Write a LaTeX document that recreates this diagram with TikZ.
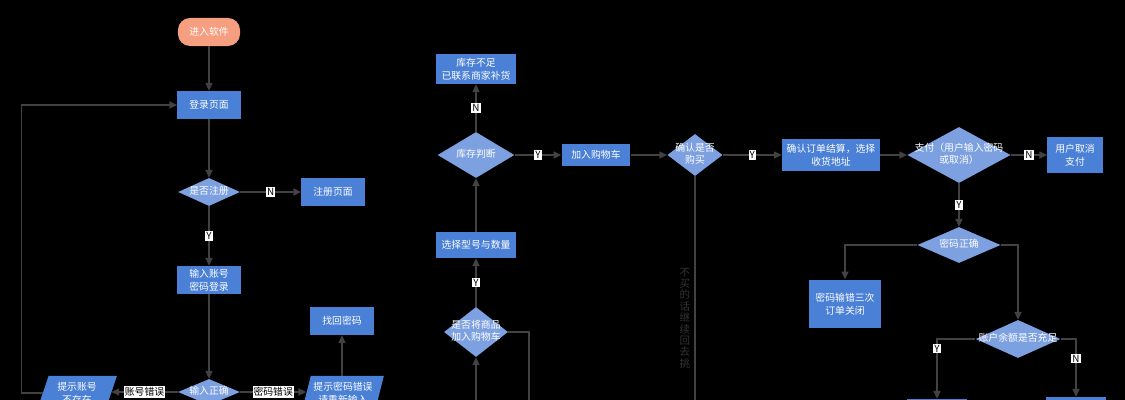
\documentclass[tikz,border=0pt]{standalone}
\usepackage{fontspec}
\setmainfont{Noto Sans CJK SC}
\usepackage{tikz}
\usetikzlibrary{shapes.geometric, arrows.meta, positioning}
\definecolor{flowbg}{RGB}{0,0,0}
\definecolor{flowblue}{RGB}{74,128,214}
\definecolor{flowdia}{RGB}{124,160,224}
\definecolor{flowsalmon}{RGB}{246,158,128}
\definecolor{flowline}{RGB}{66,66,66}
\definecolor{flowhint}{RGB}{52,52,52}
\newcommand{\dtxt}[1]{\makebox[0pt]{\begin{tabular}{@{}c@{}}#1\end{tabular}}}

\begin{document}
\begin{tikzpicture}[
  x=0.025cm, y=-0.025cm,
  font=\fontsize{7}{9}\selectfont,
  start/.style={rectangle, fill=flowsalmon, text=white, rounded corners=0.3cm, minimum width=1.55cm, minimum height=0.7cm, align=center},
  box/.style 2 args={rectangle, fill=flowblue, text=white, inner sep=1pt, minimum width=#1, minimum height=#2, align=center},
  dia/.style 2 args={diamond, fill=flowdia, text=white, inner sep=0pt, minimum width=#1, minimum height=#2},
  para/.style={trapezium, trapezium left angle=70, trapezium right angle=110, trapezium stretches=true, fill=flowblue, text=white, inner sep=0pt, minimum width=#1, minimum height=0.85cm, align=center},
  arrow/.style={-{Triangle[length=5.5pt, width=5pt]}, draw=flowline, line width=1pt},
  line/.style={draw=flowline, line width=1pt},
  lbl/.style={fill=white, text=black, inner sep=0.7pt, font=\fontsize{7}{8}\selectfont},
  hint/.style={text=flowhint, align=center, font=\fontsize{7.5}{8.1}\selectfont}
]

\useasboundingbox (0,0) rectangle (1125,400);
\fill[flowbg] (0,0) rectangle (1125,400);

% Login
\node[start] (soft) at (209,32) {进入软件};
\node[box={1.58cm}{0.7cm}] (login) at (209,105) {登录页面};
\node[dia={1.55cm}{0.7cm}] (reg) at (209,192) {\dtxt{是否注册}};
\node[box={1.58cm}{0.72cm}] (regpage) at (333,192) {注册页面};
\node[box={1.58cm}{0.7cm}] (account) at (209,280) {输入账号\\密码登录};
\node[box={1.6cm}{0.7cm}] (findpw) at (342,321) {找回密码};
\node[dia={1.55cm}{0.65cm}] (correct) at (209,392) {\dtxt{输入正确}};
\node[para=2cm] (nouser) at (77,393) {提示账号\\不存在};
\node[para=2.05cm] (wrongpw) at (343,393) {提示密码错误\\请重新输入};

% Goods
\node[box={2cm}{0.75cm}] (lack) at (476,69) {库存不足\\已联系商家补货};
\node[dia={1.92cm}{1.15cm}] (stock) at (476,155) {\dtxt{库存判断}};
\node[box={2cm}{0.65cm}] (model) at (476,245) {选择型号与数量};
\node[dia={1.6cm}{1.25cm}] (addq) at (476,332) {\dtxt{是否将商品\\加入购物车}};
\node[box={1.72cm}{0.55cm}] (cart) at (596,155) {加入购物车};
\node[dia={1.38cm}{1.05cm}] (buy) at (695,155) {\dtxt{确认是否\\购买}};
\node[hint] (hinttxt) at (685,318) {不\\买\\的\\话\\继\\续\\回\\去\\挑};

% Payment
\node[box={2.45cm}{0.8cm}] (order) at (831,155) {确认订单结算，选择\\收货地址};
\node[dia={2.58cm}{1.4cm}] (pay) at (959,155) {\dtxt{支付（用户输入密码\\或取消）}};
\node[box={1.38cm}{0.9cm}] (cancel) at (1075,155) {用户取消\\支付};
\node[dia={2.08cm}{0.9cm}] (pwok) at (959,245) {\dtxt{密码正确}};
\node[box={1.78cm}{1.22cm}] (closed) at (845,304) {密码输错三次\\订单关闭};
\node[dia={2.12cm}{0.95cm}] (balance) at (1018,339) {\dtxt{账户余额是否充足}};
\node[box={1.5cm}{0.9cm}] (paid) at (937,417) {};
\node[box={1.5cm}{0.9cm}] (short) at (1076,415) {余额不足};

% Arrows
\draw[arrow] (soft) -- (login);
\draw[arrow] (login) -- (reg);
\draw[arrow] (reg) -- (regpage) node[midway, lbl] {N};
\draw[arrow] (reg) -- (account) node[midway, lbl] {Y};
\draw[arrow] (account) -- (correct);
\draw[arrow] (correct.west) -- (correct.west -| nouser.east) node[midway, lbl] {账号错误};
\draw[arrow] (correct.east) -- (correct.east -| wrongpw.west) node[midway, lbl] {密码错误};
\draw[arrow] (wrongpw.north -| findpw) -- (findpw);
\draw[arrow] (nouser.west) -- ++(-21,0) |- (login.west);

\draw[arrow] (stock) -- (lack) node[midway, lbl] {N};
\draw[arrow] (stock) -- (cart) node[midway, lbl] {Y};
\draw[arrow] (cart) -- (buy);
\draw[arrow] (buy) -- (order) node[midway, lbl] {Y};
\draw[arrow] (model) -- (stock);
\draw[arrow] (addq) -- (model) node[midway, lbl] {Y};
\coordinate (buyout) at (695,410);
\draw[line] (buy.south) -- (buyout);
\coordinate (addqout) at (529,410);
\draw[line] (addq.east) -| (addqout);
\coordinate (addqin) at (476,410);
\draw[arrow] (addqin) -- (addq.south);

\draw[arrow] (order) -- (pay);
\draw[arrow] (pay) -- (cancel) node[midway, lbl] {N};
\draw[arrow] (pay) -- (pwok) node[midway, lbl] {Y};
\draw[arrow] (pwok.west) -| (closed.north);
\draw[arrow] (pwok.east) -| (balance.north);
\draw[arrow] (balance.west) -| (paid.north) node[pos=0.58, lbl] {Y};
\draw[arrow] (balance.east) -| (short.north) node[pos=0.67, lbl] {N};

\end{tikzpicture}
\end{document}
